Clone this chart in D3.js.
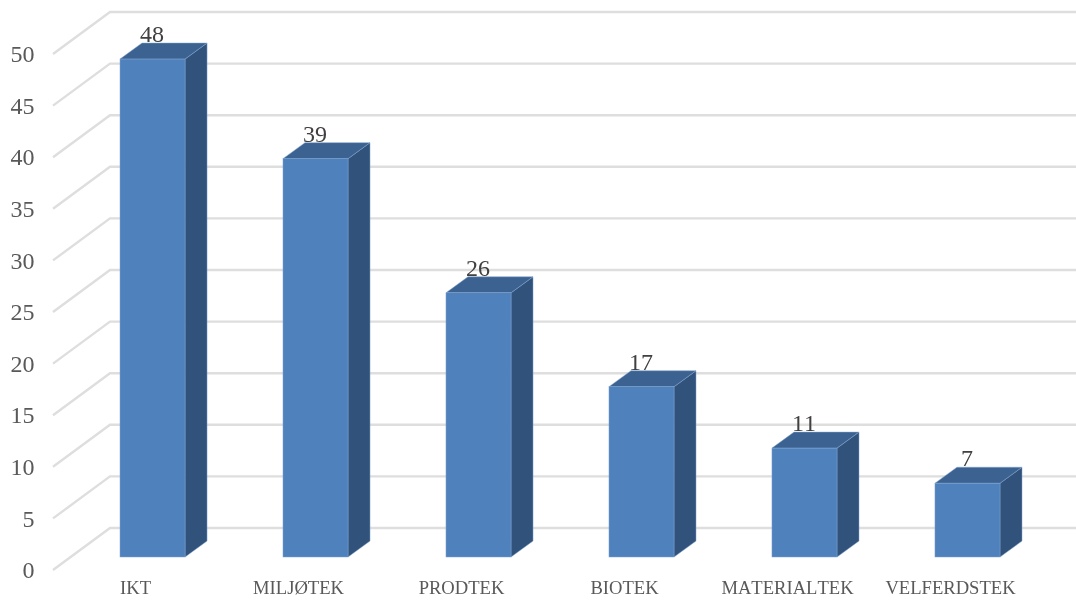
<!DOCTYPE html>
<html>
<head>
<meta charset="utf-8">
<script src="https://cdn.jsdelivr.net/npm/d3@7/dist/d3.min.js"></script>
<style>
html,body{margin:0;padding:0;background:#fff;overflow:hidden}
svg{display:block;filter:blur(0.55px)}
text{font-family:"Liberation Serif","Times New Roman",serif;font-kerning:none}
</style>
</head>
<body>
<svg id="chart" width="1076" height="603"></svg>
<script>
const categories = ["IKT","MILJØTEK","PRODTEK","BIOTEK","MATERIALTEK","VELFERDSTEK"];
const valueLabels = [48,39,26,17,11,7];
const barHeights = [48.25,38.6,25.6,16.5,10.55,7.15];
const yTicks = [0,5,10,15,20,25,30,35,40,45,50];

const svg = d3.select("#chart");
const W = 1076;
const depthX = 22, depthY = 16;
const floorDX = 57, floorDY = 42;

const x = d3.scaleBand().domain(categories).range([120,1000]).paddingInner(0.601).paddingOuter(0);
const y = d3.scaleLinear().domain([0,50]).range([528,12]);
const h = d3.scaleLinear().domain([0,50]).range([0,516]);
const barBase = 557;

// gridlines: angled floor/wall
svg.append("g").selectAll("path").data(yTicks).join("path")
  .attr("d", d => d3.line()([[110-floorDX, y(d)+floorDY],[110,y(d)],[W,y(d)]]))
  .attr("fill","none").attr("stroke","#dedede").attr("stroke-width",2.4);

// y axis labels
const yAxis = svg.append("g").attr("transform",`translate(34.5,${floorDY})`)
  .call(d3.axisLeft(y).tickValues(yTicks).tickSize(0).tickPadding(0));
yAxis.select(".domain").remove();
yAxis.selectAll("text").attr("fill","#595959").style("font-size","24px")
  .style("font-family",'"Liberation Serif",serif');

// x axis labels
const xAxis = svg.append("g").attr("transform",`translate(-17,581)`)
  .call(d3.axisBottom(x).tickSize(0).tickPadding(0));
xAxis.select(".domain").remove();
xAxis.selectAll("text").attr("fill","#595959").style("font-size","18.6px")
  .style("font-family",'"Liberation Serif",serif');

const rows = categories.map((c,i)=>({c,label:valueLabels[i],v:barHeights[i]}));

// value labels sit behind the bars
svg.append("g").selectAll("text").data(rows).join("text")
  .attr("x", d => x(d.c)+x.bandwidth()/2-0.5)
  .attr("y", d => barBase-h(d.v)-depthY-1)
  .attr("text-anchor","middle").attr("fill","#404040").style("font-size","24px")
  .text(d => d.label);

const bars = svg.append("g").selectAll("g").data(rows).join("g");
const bw = x.bandwidth();
const edge = "#7fa3cf";
bars.append("path") // side
  .attr("d", d => { const l=x(d.c)+bw, t=barBase-h(d.v);
    return d3.line()([[l,t],[l+depthX,t-depthY],[l+depthX,barBase-depthY],[l,barBase]])+"Z"; })
  .attr("fill","#30527b").attr("stroke",edge).attr("stroke-width",0.5);
bars.append("path") // top
  .attr("d", d => { const l=x(d.c), t=barBase-h(d.v);
    return d3.line()([[l,t],[l+depthX,t-depthY],[l+bw+depthX,t-depthY],[l+bw,t]])+"Z"; })
  .attr("fill","#3c6291").attr("stroke",edge).attr("stroke-width",0.5);
bars.append("rect") // front
  .attr("x", d => x(d.c)).attr("y", d => barBase-h(d.v))
  .attr("width",bw).attr("height", d => h(d.v))
  .attr("fill","#4f81bd").attr("stroke",edge).attr("stroke-width",0.5);
</script>
</body>
</html>
